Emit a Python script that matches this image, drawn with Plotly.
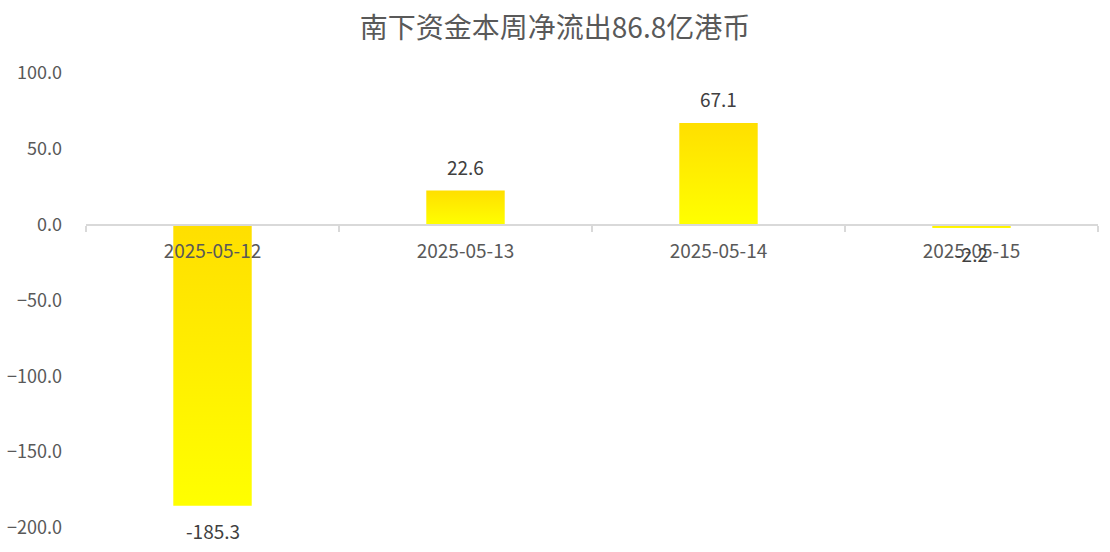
import plotly.graph_objects as go

dates = ["2025-05-12", "2025-05-13", "2025-05-14", "2025-05-15"]
values = [-185.3, 22.6, 67.1, -2.2]
y_ticks = [-200, -150, -100, -50, 0, 50, 100]
title_text = "南下资金本周净流出86.8亿港币"

BAR_W = 0.31
FONT = "Noto Sans CJK SC"

fig = go.Figure()

for i, v in enumerate(values):
    lo, hi = min(0, v), max(0, v)
    xs = [i - BAR_W / 2, i + BAR_W / 2, i + BAR_W / 2, i - BAR_W / 2, i - BAR_W / 2]
    ys = [lo, lo, hi, hi, lo]
    fig.add_trace(go.Scatter(
        x=xs, y=ys, mode="lines", fill="toself",
        line=dict(width=0, color="rgba(0,0,0,0)"),
        fillgradient=dict(type="vertical",
                          colorscale=[[0, "#FFFF00"], [1, "#FFDF00"]],
                          start=lo, stop=hi),
        hoverinfo="skip", showlegend=False,
    ))

for i, v in enumerate(values):
    fig.add_annotation(
        x=i, y=v, text=f"{v:.1f}", showarrow=False,
        yshift=24 if v >= 0 else -25,
        font=dict(family=FONT, size=19, color="#404040"),
    )

fig.update_layout(
    width=1110, height=552,
    margin=dict(l=86, r=12, t=73, b=24),
    paper_bgcolor="white", plot_bgcolor="white",
    title=dict(text=title_text, x=0.5, xanchor="center", y=1 - 28 / 552, yanchor="middle",
               yref="container", font=dict(family=FONT, size=28, color="#595959")),
    showlegend=False,
    xaxis=dict(
        range=[-0.5, 3.5], tickmode="array", tickvals=list(range(len(dates))), ticktext=dates,
        ticks="", showgrid=False, zeroline=False, automargin=False,
        showline=True, linecolor="#d9d9d9", linewidth=2,
        anchor="free", position=2 / 3,
        tickfont=dict(family=FONT, size=19, color="#595959"),
        ticklabelstandoff=10,
        minor=dict(tickmode="linear", tick0=-0.5, dtick=1, ticks="outside",
                   ticklen=6, tickcolor="#d9d9d9", tickwidth=2, showgrid=False),
    ),
    yaxis=dict(
        range=[-200, 100], tickmode="array", tickvals=y_ticks, tickformat=".1f",
        showgrid=False, zeroline=False, showline=False, ticks="", automargin=False,
        tickfont=dict(family=FONT, size=18, color="#595959"),
        ticklabelstandoff=23,
    ),
)

fig.write_html("out.html", config={"displayModeBar": False},
               post_script="document.body.style.margin='0';")
